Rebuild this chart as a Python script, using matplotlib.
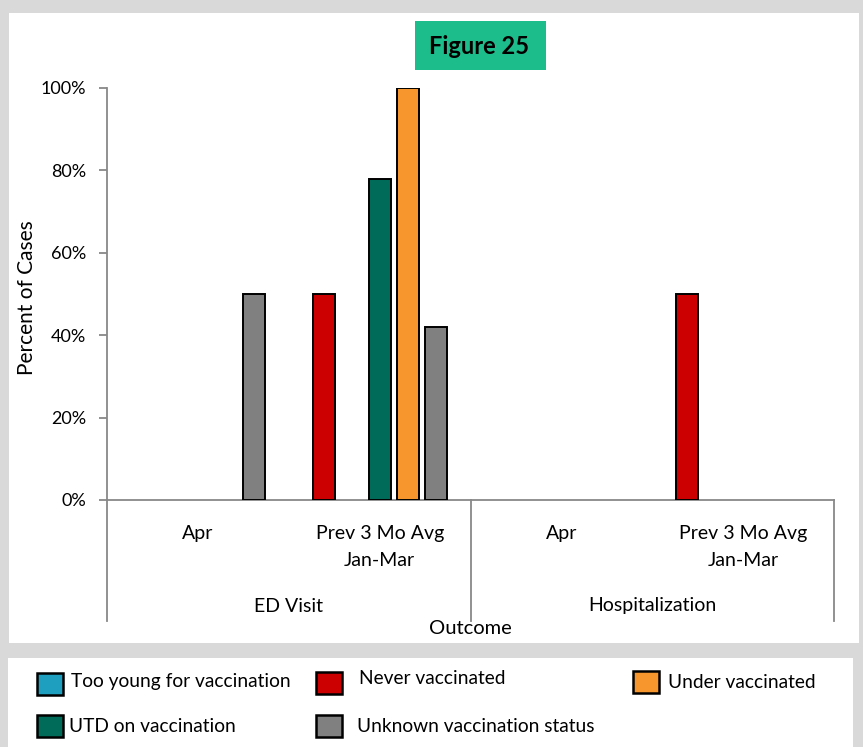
import matplotlib
matplotlib.use("Agg")
import matplotlib.pyplot as plt
from matplotlib.patches import Rectangle

# Outcome groups and the periods inside each one
outcomes = ["ED Visit", "Hospitalization"]
periods = [["Apr"], ["Prev 3 Mo Avg", "Jan-Mar"]]

# Series in plotting order (slot order inside each category)
series = ["Never vaccinated", "Too young for vaccination", "UTD on vaccination",
          "Under vaccinated", "Unknown vaccination status"]
# values per category: ED/Apr, ED/Prev, Hosp/Apr, Hosp/Prev  (percent)
never_vax = [0, 50, 0, 50]
too_young = [0, 0, 0, 0]
utd_vax = [0, 78, 0, 0]
under_vax = [0, 100, 0, 0]
unknown_vax = [50, 42, 0, 0]
values = [never_vax, too_young, utd_vax, under_vax, unknown_vax]

colors = {
    "Too young for vaccination": "#1f9fbf",
    "Never vaccinated": "#cc0000",
    "Under vaccinated": "#f7962d",
    "UTD on vaccination": "#006b58",
    "Unknown vaccination status": "#808080",
}

W, H = 863, 747
FONT = "Lato"
AXIS_GREY = "#888888"

fig = plt.figure(figsize=(W / 100, H / 100), dpi=100, facecolor="#d9d9d9")


def fx(px):
    return px / W


def fy(py):
    return 1 - py / H


# white panels for the chart and the legend
fig.patches.append(Rectangle((fx(9), fy(643)), fx(850), 630 / H, transform=fig.transFigure,
                             facecolor="white", edgecolor="none", zorder=-2))
fig.patches.append(Rectangle((fx(8), fy(747)), fx(845), 89 / H, transform=fig.transFigure,
                             facecolor="white", edgecolor="none", zorder=-2))

# title badge
fig.patches.append(Rectangle((fx(415), fy(70)), fx(131), 49 / H, transform=fig.transFigure,
                             facecolor="#1dbd8b", edgecolor="none", zorder=-1))
fig.text(fx(479), fy(46), "Figure 25", ha="center", va="center", fontsize=17,
         fontweight="bold", family=FONT, color="black")

ax = fig.add_axes([fx(107), fy(500), fx(727), 412 / H])
ax.set_facecolor("none")
ax.set_zorder(2)

n_cat = len(never_vax)
slot = 28 / 181.75
bar_w = 22 / 181.75
centers = [i + 0.5 for i in range(n_cat)]
for k, (name, vals) in enumerate(zip(series, values)):
    # empty categories get no bar at all (no outline on the baseline)
    pts = [(c + (k - 2) * slot, v) for c, v in zip(centers, vals) if v > 0]
    if not pts:
        continue
    xs, hs = zip(*pts)
    ax.bar(xs, hs, width=bar_w, color=colors[name], edgecolor="black",
           linewidth=1.4, zorder=3)

ax.set_xlim(0, n_cat)
ax.set_ylim(0, 100)
ax.set_yticks(range(0, 101, 20))
ax.set_yticklabels([f"{t}%" for t in range(0, 101, 20)], fontsize=13, family=FONT)
ax.tick_params(axis="y", length=6, width=1.3, color=AXIS_GREY, pad=9)
ax.set_xticks([])
for side in ["top", "right"]:
    ax.spines[side].set_visible(False)
for side in ["left", "bottom"]:
    ax.spines[side].set_color(AXIS_GREY)
    ax.spines[side].set_linewidth(1.3)

# multi-level category axis below the plot
tr = ax.get_xaxis_transform()


def ay(py):
    return -(py - 500) / 412


for xline in [0, 2, 4]:
    ax.plot([xline, xline], [0, ay(621)], transform=tr, clip_on=False,
            color=AXIS_GREY, lw=1.3)

for g, outcome in enumerate(outcomes):
    for p, lines in enumerate(periods):
        for li, line in enumerate(lines):
            ax.text(centers[2 * g + p], ay(533 + 27 * li), line, transform=tr,
                    ha="center", va="center", fontsize=14, family=FONT)
    ax.text(g * 2 + 1, ay(606), outcome, transform=tr, ha="center", va="center",
            fontsize=14, family=FONT)

fig.text(fx(470), fy(629), "Outcome", ha="center", va="center", fontsize=14.5, family=FONT)
fig.text(fx(27), fy(298), "Percent of Cases", ha="center", va="center", rotation=90,
         fontsize=15, family=FONT)

# legend drawn as swatches + labels: (name, swatch left, swatch top, text x, text y)
legend_items = [
    ("Too young for vaccination", 37, 673, 71, 682),
    ("Never vaccinated", 316, 672, 359, 678),
    ("Under vaccinated", 633, 671, 668, 682),
    ("UTD on vaccination", 37, 715, 69, 727),
    ("Unknown vaccination status", 316, 715, 357, 727),
]
for name, px, py, tx, ty in legend_items:
    fig.patches.append(Rectangle((fx(px), fy(py + 22)), fx(26), 22 / H, transform=fig.transFigure,
                                 facecolor=colors[name], edgecolor="black", linewidth=1.8, zorder=2))
    fig.text(fx(tx), fy(ty), name, ha="left", va="center", fontsize=13.8, family=FONT)

fig.savefig("out.png", dpi=100, facecolor=fig.get_facecolor())
